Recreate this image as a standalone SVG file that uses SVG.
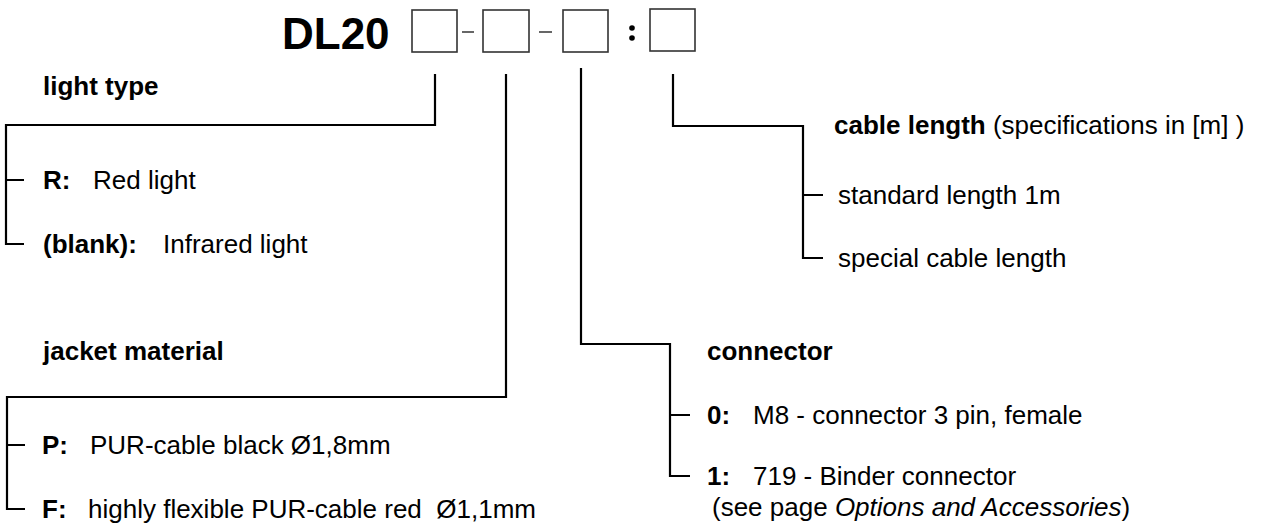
<svg xmlns="http://www.w3.org/2000/svg" width="1276" height="526" viewBox="0 0 1276 526">
<style>
text{font-family:"Liberation Sans",Arial,sans-serif;font-size:26px;fill:#000}
.b{font-weight:bold}
.i{font-style:italic}
.title{font-size:44px;font-weight:bold}
.box{fill:#fff;stroke:#333;stroke-width:1.6}
.ln{fill:none;stroke:#000;stroke-width:2.2}
.thin{fill:none;stroke:#000;stroke-width:1.2}
</style>
<rect width="1276" height="526" fill="#fff"/>
<g id="code">
<text class="title" x="282" y="49">DL20</text>
<rect class="box" x="412" y="10" width="45" height="42"/>
<line class="thin" x1="462" y1="32" x2="474" y2="32"/>
<rect class="box" x="483" y="10" width="46" height="42"/>
<line class="thin" x1="539" y1="32" x2="552" y2="32"/>
<rect class="box" x="563" y="10" width="45" height="42"/>
<circle cx="632" cy="28" r="2.8"/>
<circle cx="632" cy="38" r="2.8"/>
<rect class="box" x="650" y="9" width="45" height="42"/>
</g>
<g id="connectors">
<path class="ln" d="M435 74V125H6V244H24M6 180H24"/>
<path class="ln" d="M506 74V397H7V509H25M7 445H25"/>
<path class="ln" d="M581 68V344H670V476H690M670 415H690"/>
<path class="ln" d="M673 74V126H803V258H823M803 195H823"/>
</g>
<g id="light-type">
<text class="b" x="43" y="95">light type</text>
<text class="b" x="43" y="189">R:</text>
<text x="93" y="189">Red light</text>
<text class="b" x="43" y="253">(blank):</text>
<text x="163" y="253">Infrared light</text>
</g>
<g id="jacket-material">
<text class="b" x="43" y="360">jacket material</text>
<text class="b" x="42" y="454">P:</text>
<text x="90" y="454">PUR-cable black Ø1,8mm</text>
<text class="b" x="42" y="518">F:</text>
<text x="88" y="518" xml:space="preserve">highly flexible PUR-cable red  Ø1,1mm</text>
</g>
<g id="connector">
<text class="b" x="707" y="360">connector</text>
<text class="b" x="707" y="424">0:</text>
<text x="753" y="424">M8 - connector 3 pin, female</text>
<text class="b" x="707" y="485">1:</text>
<text x="753" y="485">719 - Binder connector</text>
<text x="712" y="516">(see page <tspan class="i">Options and Accessories</tspan>)</text>
</g>
<g id="cable-length">
<text x="834" y="134"><tspan class="b">cable length</tspan> (specifications in [m] )</text>
<text x="838" y="204">standard length 1m</text>
<text x="838" y="267">special cable length</text>
</g>
</svg>
